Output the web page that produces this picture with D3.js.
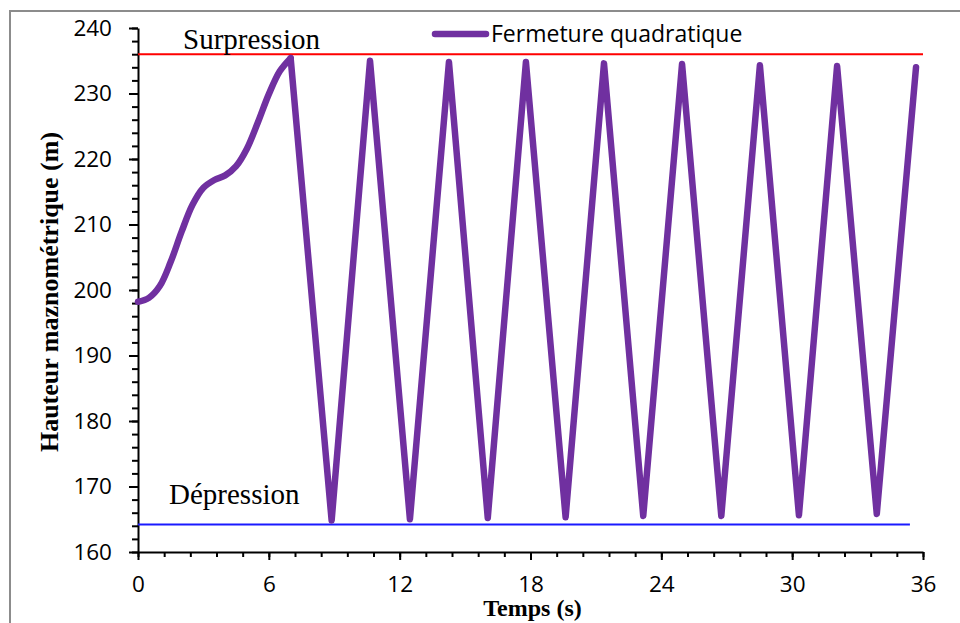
<!DOCTYPE html>
<html>
<head>
<meta charset="utf-8">
<script src="https://cdn.jsdelivr.net/npm/d3@7"></script>
<style>
    body { margin: 0; background: #fff; }
    svg { display: block; }
</style>
</head>
<body>
<div id="chart"></div>
<script>
// montée initiale (lissée), puis oscillations entre surpression et dépression
var rise_t = [0, 0.5, 1.0, 1.5, 2.0, 2.5, 3.0, 3.5, 4.0, 4.5, 5.0, 5.5, 6.0, 6.5, 7.0];
var rise_h = [198.2, 198.8, 200.6, 204.3, 208.9, 213.0, 215.6, 216.8, 217.5, 218.9, 221.6, 225.6, 229.9, 233.4, 235.4];

var osc_t = [7.0, 8.88, 10.64, 12.47, 14.26, 16.04, 17.79, 19.61, 21.37, 23.17, 24.95, 26.75, 28.52, 30.31, 32.06, 33.88, 35.68];
var osc_h = [235.4, 164.8, 235.0, 165.0, 234.8, 165.2, 234.8, 165.3, 234.6, 165.5, 234.5, 165.5, 234.3, 165.6, 234.2, 165.8, 234.0];

var surpression = 236;
var depression = 164.2;
var depression_end = 35.4;

var x_ticks = [0, 6, 12, 18, 24, 30, 36];
var y_ticks = [160, 170, 180, 190, 200, 210, 220, 230, 240];
var series_name = "Fermeture quadratique";

var chart_width = 960, chart_height = 623;
var margin = { top: 28, left: 138, right: 37, bottom: 71 };
var plot_w = chart_width - margin.left - margin.right,
    plot_h = chart_height - margin.top - margin.bottom;

var svg = d3.select("#chart").append("svg")
    .attr("width", chart_width)
    .attr("height", chart_height);

// cadre gris
svg.append("rect")
    .attr("x", 10).attr("y", 11)
    .attr("width", 970).attr("height", 640)
    .attr("fill", "none")
    .attr("stroke", "#8c8c8c")
    .attr("stroke-width", 2);

var g = svg.append("g").attr("transform", "translate(" + margin.left + "," + margin.top + ")");

var x = d3.scaleLinear().domain([0, 36]).range([0, plot_w]);
var y = d3.scaleLinear().domain([160, 240]).range([plot_h, 0]);

// graduations secondaires
var x_minor = d3.range(0, 36.001, 1.2);
var y_minor = d3.range(160, 240.001, 2);

g.append("g")
    .attr("transform", "translate(0," + plot_h + ")")
    .call(d3.axisBottom(x).tickValues(x_minor).tickSize(5).tickFormat(""))
    .call(function (a) { a.select(".domain").remove(); })
    .selectAll("line").attr("stroke", "#000").attr("stroke-width", 2);

g.append("g")
    .call(d3.axisLeft(y).tickValues(y_minor).tickSize(6).tickFormat(""))
    .call(function (a) { a.select(".domain").remove(); })
    .selectAll("line").attr("stroke", "#000").attr("stroke-width", 2);

var x_axis = g.append("g")
    .attr("transform", "translate(0," + plot_h + ")")
    .call(d3.axisBottom(x).tickValues(x_ticks).tickSize(8).tickSizeOuter(0).tickPadding(16));
var y_axis = g.append("g")
    .call(d3.axisLeft(y).tickValues(y_ticks).tickSize(9).tickSizeOuter(0).tickPadding(17));

[x_axis, y_axis].forEach(function (a) {
    a.select(".domain").attr("stroke", "#000").attr("stroke-width", 2);
    a.selectAll(".tick line").attr("stroke", "#000").attr("stroke-width", 2);
    a.selectAll(".tick text")
        .attr("fill", "#000")
        .style("font-family", "'Open Sans', sans-serif")
        .style("font-size", "22.5px");
});

// lignes de référence
g.append("line")
    .attr("x1", 0).attr("x2", x(36))
    .attr("y1", y(surpression)).attr("y2", y(surpression))
    .attr("stroke", "#ff0000").attr("stroke-width", 2);
g.append("line")
    .attr("x1", 0).attr("x2", x(depression_end))
    .attr("y1", y(depression)).attr("y2", y(depression))
    .attr("stroke", "#1a1aff").attr("stroke-width", 2);

g.append("text")
    .attr("x", 45).attr("y", 21)
    .style("font-family", "'Liberation Serif', serif")
    .style("font-size", "29px")
    .text("Surpression");
g.append("text")
    .attr("x", 31).attr("y", 476)
    .style("font-family", "'Liberation Serif', serif")
    .style("font-size", "29px")
    .text("Dépression");

// courbe
var rise = rise_t.map(function (t, i) { return [t, rise_h[i]]; });
var osc = osc_t.map(function (t, i) { return [t, osc_h[i]]; });

var smooth = d3.line()
    .x(function (d) { return x(d[0]); })
    .y(function (d) { return y(d[1]); })
    .curve(d3.curveCatmullRom);
var straight = d3.line()
    .x(function (d) { return x(d[0]); })
    .y(function (d) { return y(d[1]); });

[[rise, smooth], [osc, straight]].forEach(function (p) {
    g.append("path")
        .datum(p[0])
        .attr("d", p[1])
        .attr("fill", "none")
        .attr("stroke", "#7030a0")
        .attr("stroke-width", 6.5)
        .attr("stroke-linejoin", "round")
        .attr("stroke-linecap", "round");
});

// légende
svg.append("line")
    .attr("x1", 435).attr("x2", 486)
    .attr("y1", 34).attr("y2", 34)
    .attr("stroke", "#7030a0").attr("stroke-width", 6.5)
    .attr("stroke-linecap", "round");
svg.append("text")
    .attr("x", 491).attr("y", 42)
    .style("font-family", "'Open Sans', sans-serif")
    .style("font-size", "23px")
    .text(series_name);

// titres des axes
svg.append("text")
    .attr("transform", "translate(58," + (margin.top + plot_h / 2 + 2) + ") rotate(-90)")
    .style("text-anchor", "middle")
    .style("font-family", "'Liberation Serif', serif")
    .style("font-weight", "bold")
    .style("font-size", "26px")
    .text("Hauteur maznométrique (m)");
svg.append("text")
    .attr("x", margin.left + plot_w / 2 + 2).attr("y", 616)
    .style("text-anchor", "middle")
    .style("font-family", "'Liberation Serif', serif")
    .style("font-weight", "bold")
    .style("font-size", "24px")
    .text("Temps (s)");
</script>
</body>
</html>
